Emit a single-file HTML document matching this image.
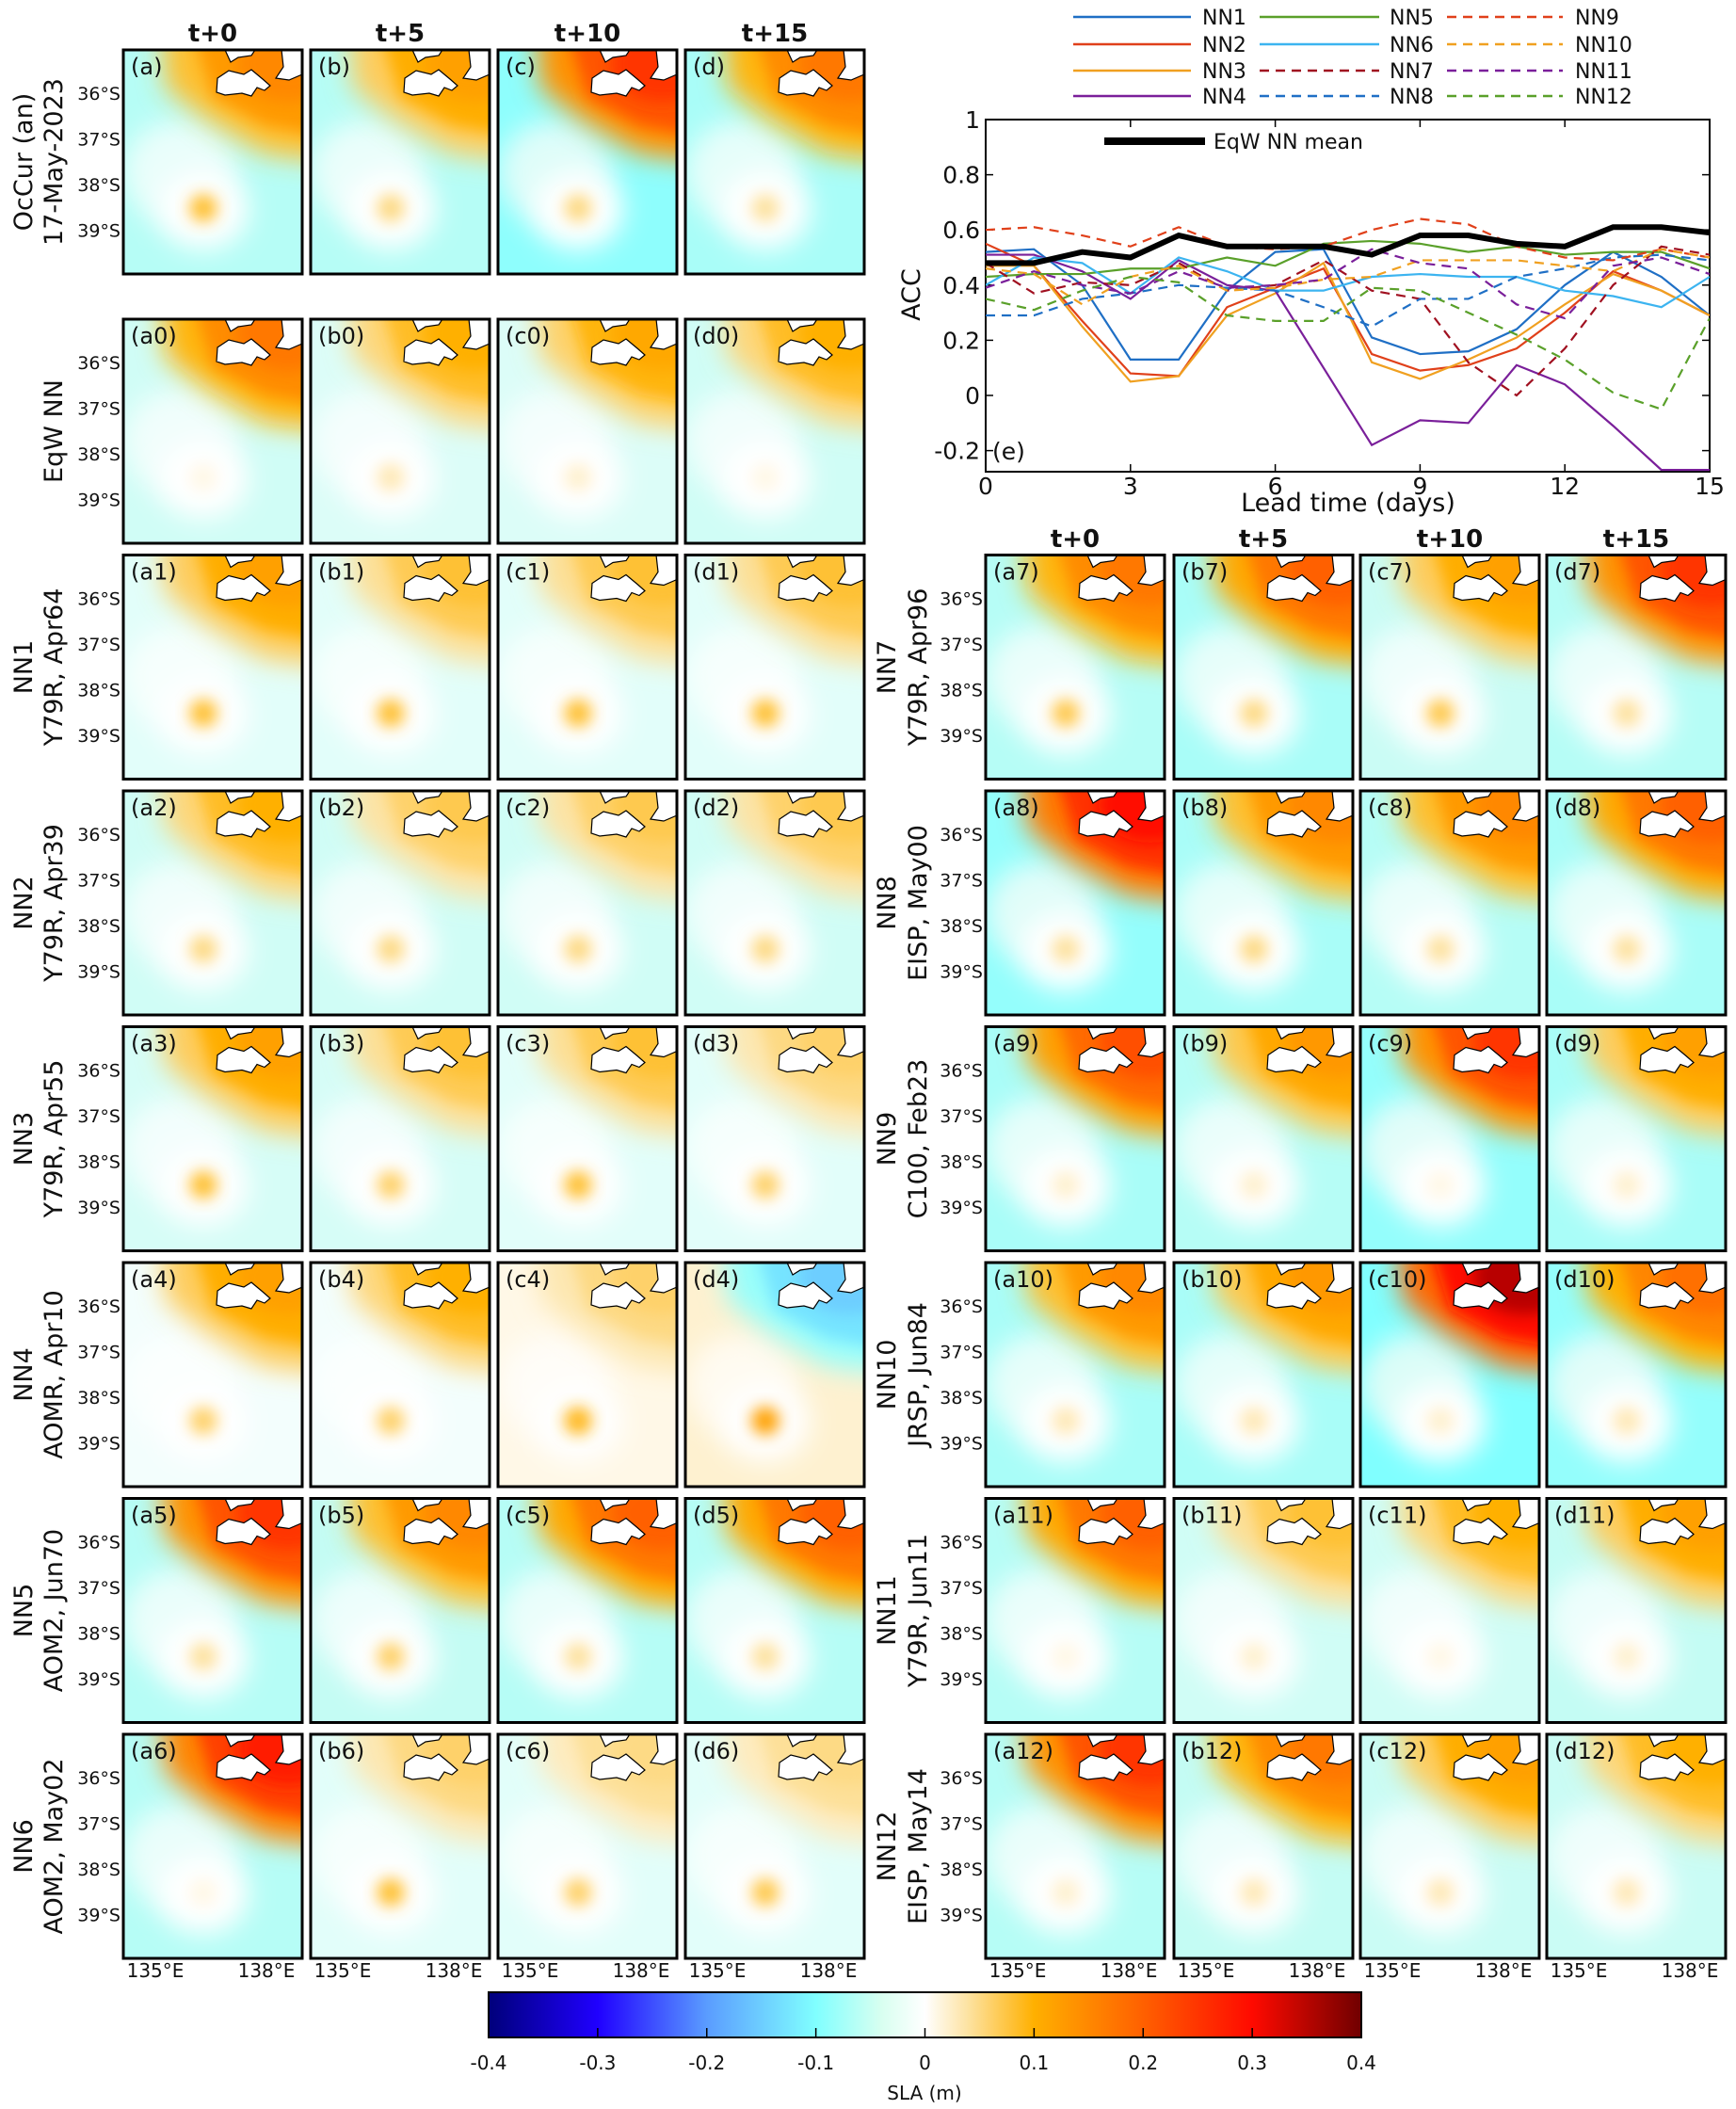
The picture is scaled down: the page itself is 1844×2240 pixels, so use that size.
<!DOCTYPE html>
<html><head><meta charset="utf-8">
<style>
html,body{margin:0;padding:0;background:#fff;}
#root{position:relative;width:1844px;height:2240px;overflow:hidden;font-family:"Liberation Sans","DejaVu Sans",sans-serif;}
svg text{font-family:"DejaVu Sans","Liberation Sans",sans-serif;}
</style></head>
<body>
<div id="root">
<svg id="maps" width="1844" height="2240" style="position:absolute;left:0;top:0">
<defs>
<filter id="bl" x="-50%" y="-50%" width="200%" height="200%"><feGaussianBlur stdDeviation="14"/></filter>
<filter id="bs" x="-50%" y="-50%" width="200%" height="200%"><feGaussianBlur stdDeviation="8"/></filter>
<linearGradient id="cbg" x1="0" x2="1" y1="0" y2="0">
<stop offset="0" stop-color="#00007a"/><stop offset="0.125" stop-color="#2000ff"/>
<stop offset="0.25" stop-color="#5a9cff"/><stop offset="0.375" stop-color="#80ffff"/>
<stop offset="0.45" stop-color="#d8fff0"/><stop offset="0.5" stop-color="#ffffff"/>
<stop offset="0.55" stop-color="#fde2a0"/><stop offset="0.625" stop-color="#ffb000"/>
<stop offset="0.75" stop-color="#ff6000"/><stop offset="0.875" stop-color="#ff0a00"/>
<stop offset="1" stop-color="#700000"/></linearGradient>
</defs>
</svg>
<svg id="chart" width="1844" height="560" style="position:absolute;left:0;top:0"></svg>
</div>
<script>
// ===== ACC chart data =====
const days = [0,1,2,3,4,5,6,7,8,9,10,11,12,13,14,15];
const yTicks = [-0.2,0,0.2,0.4,0.6,0.8,1];
const xTicks = [0,3,6,9,12,15];
const seriesNames = ["NN1","NN2","NN3","NN4","NN5","NN6","NN7","NN8","NN9","NN10","NN11","NN12"];
const seriesColors = ["#1f6fc5","#e0401a","#f0a020","#7a1f9a","#5aa02a","#3cb4f0","#a01020","#1f6fc5","#e0401a","#f0a020","#7a1f9a","#5aa02a"];
const seriesDashed = [0,0,0,0,0,0,1,1,1,1,1,1];
const nn1 = [0.52,0.53,0.40,0.13,0.13,0.38,0.52,0.53,0.21,0.15,0.16,0.24,0.40,0.52,0.43,0.29];
const nn2 = [0.55,0.47,0.27,0.08,0.07,0.32,0.39,0.46,0.15,0.09,0.11,0.17,0.30,0.45,0.38,0.29];
const nn3 = [0.47,0.47,0.25,0.05,0.07,0.29,0.37,0.48,0.12,0.06,0.13,0.21,0.33,0.44,0.38,0.29];
const nn4 = [0.51,0.51,0.45,0.35,0.49,0.40,0.38,0.10,-0.18,-0.09,-0.10,0.11,0.04,-0.11,-0.27,-0.27];
const nn5 = [0.43,0.44,0.44,0.46,0.46,0.50,0.47,0.55,0.56,0.55,0.52,0.54,0.51,0.52,0.52,0.46];
const nn6 = [0.40,0.50,0.48,0.37,0.50,0.45,0.38,0.38,0.43,0.44,0.43,0.43,0.38,0.36,0.32,0.43];
const nn7 = [0.48,0.37,0.41,0.40,0.48,0.38,0.40,0.49,0.38,0.35,0.12,0.00,0.17,0.40,0.54,0.51];
const nn8 = [0.29,0.29,0.35,0.37,0.40,0.39,0.38,0.32,0.25,0.35,0.35,0.43,0.46,0.50,0.51,0.49];
const nn9 = [0.60,0.61,0.58,0.54,0.61,0.54,0.53,0.54,0.60,0.64,0.62,0.54,0.50,0.49,0.53,0.50];
const nn10 = [0.46,0.44,0.33,0.43,0.47,0.38,0.39,0.42,0.43,0.49,0.49,0.49,0.47,0.45,0.53,0.50];
const nn11 = [0.39,0.45,0.40,0.37,0.45,0.39,0.40,0.42,0.53,0.48,0.46,0.33,0.28,0.47,0.50,0.44];
const nn12 = [0.35,0.31,0.38,0.43,0.41,0.29,0.27,0.27,0.39,0.38,0.30,0.22,0.13,0.01,-0.05,0.28];
const eqwMean = [0.48,0.48,0.52,0.50,0.58,0.54,0.54,0.54,0.51,0.58,0.58,0.55,0.54,0.61,0.61,0.59];
const seriesValues = [nn1,nn2,nn3,nn4,nn5,nn6,nn7,nn8,nn9,nn10,nn11,nn12];

// ===== map panel data (SLA in m) =====
const colHeaders = ["t+0","t+5","t+10","t+15"];
const leftRowLabels = [["OcCur (an)","17-May-2023"],["EqW NN",""],["NN1","Y79R, Apr64"],["NN2","Y79R, Apr39"],["NN3","Y79R, Apr55"],["NN4","AOMR, Apr10"],["NN5","AOM2, Jun70"],["NN6","AOM2, May02"]];
const rightRowLabels = [["NN7","Y79R, Apr96"],["NN8","EISP, May00"],["NN9","C100, Feb23"],["NN10","JRSP, Jun84"],["NN11","Y79R, Jun11"],["NN12","EISP, May14"]];
const leftNE = [[0.15,0.12,0.25,0.17],[0.17,0.10,0.11,0.10],[0.12,0.08,0.08,0.08],[0.10,0.07,0.07,0.07],[0.12,0.08,0.08,0.06],[0.12,0.10,0.06,-0.15],[0.25,0.15,0.20,0.20],[0.28,0.06,0.05,0.05]];
const leftEddy = [[0.08,0.05,0.05,0.04],[0.01,0.03,0.02,0.01],[0.08,0.08,0.08,0.08],[0.05,0.05,0.05,0.05],[0.08,0.06,0.08,0.06],[0.06,0.06,0.09,0.12],[0.04,0.06,0.04,0.04],[0.01,0.08,0.06,0.07]];
const leftBg = [[-0.06,-0.06,-0.09,-0.07],[-0.04,-0.03,-0.03,-0.04],[-0.025,-0.025,-0.025,-0.025],[-0.04,-0.04,-0.04,-0.04],[-0.035,-0.035,-0.025,-0.025],[-0.01,-0.01,0.01,0.02],[-0.06,-0.05,-0.06,-0.06],[-0.06,-0.025,-0.025,-0.025]];
const rightNE = [[0.17,0.20,0.12,0.25],[0.30,0.15,0.15,0.20],[0.22,0.13,0.25,0.12],[0.15,0.13,0.35,0.18],[0.20,0.08,0.10,0.12],[0.25,0.17,0.12,0.10]];
const rightEddy = [[0.07,0.05,0.07,0.04],[0.04,0.05,0.04,0.04],[0.02,0.02,0.01,0.02],[0.03,0.03,0.02,0.03],[0.01,0.02,0.01,0.02],[0.02,0.03,0.03,0.03]];
const rightBg = [[-0.06,-0.07,-0.045,-0.06],[-0.085,-0.07,-0.06,-0.07],[-0.07,-0.06,-0.085,-0.07],[-0.07,-0.07,-0.1,-0.085],[-0.06,-0.04,-0.04,-0.05],[-0.06,-0.05,-0.045,-0.045]];
const cbTicks = [-0.4,-0.3,-0.2,-0.1,0,0.1,0.2,0.3,0.4];

const NS="http://www.w3.org/2000/svg";
function mk(parent,tag,attrs,txt){const e=document.createElementNS(NS,tag);for(const k in attrs)e.setAttribute(k,attrs[k]);if(txt!==undefined)e.textContent=txt;parent.appendChild(e);return e;}

const cmS=[-0.4,-0.3,-0.2,-0.1,-0.05,0,0.04,0.1,0.2,0.3,0.4];
const cmC=[[0,0,122],[32,0,255],[90,156,255],[128,255,255],[196,252,244],[255,255,255],[253,226,160],[255,176,0],[255,96,0],[255,10,0],[112,0,0]];
function cmap(v){v=Math.max(-0.4,Math.min(0.4,v));for(let i=0;i<cmS.length-1;i++){if(v<=cmS[i+1]){const t=(v-cmS[i])/(cmS[i+1]-cmS[i]);const c=cmC[i].map((a,j)=>Math.round(a+(cmC[i+1][j]-a)*t));return `rgb(${c})`;}}return "rgb(112,0,0)";}

const maps=document.getElementById('maps');
const W=190,H=238;
const leftX=[131,330,529,728], rightX=[1047,1247,1445,1643];
function rowTop(r){return r===0?53:339+(r-1)*250.5;}
let clipId=0;
function panel(x,y,ne,eddy,bg,label,showLat){
  const g=mk(maps,'g',{transform:`translate(${x},${y})`});
  
  
  const cid='c'+(clipId++);
  const cp=mk(g,'clipPath',{id:cid});mk(cp,'rect',{x:0,y:0,width:W,height:H});
  const f=mk(g,'g',{'clip-path':`url(#${cid})`});
  mk(f,'rect',{x:0,y:0,width:W,height:H,fill:cmap(bg)});
  mk(f,'ellipse',{cx:60,cy:130,rx:60,ry:55,fill:cmap(bg*0.3),filter:'url(#bl)'});
  mk(f,'ellipse',{cx:85,cy:170,rx:48,ry:42,fill:cmap(0),filter:'url(#bl)'});
  mk(f,'polygon',{points:`40,-30 230,-30 230,120 150,110 90,75 45,40`,fill:cmap(ne*0.55),filter:'url(#bl)'});
  mk(f,'polygon',{points:`70,-30 230,-30 230,95 150,80 95,50`,fill:cmap(ne*0.85),filter:'url(#bs)'});
  mk(f,'ellipse',{cx:175,cy:15,rx:55,ry:40,fill:cmap(ne),filter:'url(#bs)'});
  mk(f,'circle',{cx:85,cy:168,r:15,fill:cmap(eddy),filter:'url(#bs)'});
  mk(f,'path',{d:'M100,30 L112,22 L128,26 L136,21 L148,31 L156,38 L150,43 L142,40 L136,49 L126,46 L108,48 L99,45 Z',fill:'#fff',stroke:'#000','stroke-width':1.2});
  mk(f,'path',{d:'M108,0 L140,0 L136,6 L122,8 L114,13 Z',fill:'#fff',stroke:'#000','stroke-width':1.2});
  mk(f,'path',{d:'M168,0 L190,0 L190,26 L176,32 L162,30 L170,18 Z',fill:'#fff',stroke:'#000','stroke-width':1.2});
  mk(g,'rect',{x:0,y:0,width:W,height:H,fill:'none',stroke:'#000','stroke-width':3});
  const t=mk(g,'text',{x:8,y:26,'font-size':24,fill:'#111'},label);
  
  
  if(showLat){
    ['36°S','37°S','38°S','39°S'].forEach((s,i)=>{
      const lt=mk(maps,'text',{x:x-3,y:y+53+i*48.5,'font-size':19,'text-anchor':'end',fill:'#111'},s);
      
      
    });
  }
}
function rowLabel(cx1,cx2,yc,lines){
  lines.forEach((s,i)=>{
    if(!s)return;
    const cx=lines[1]?(i===0?cx1:cx2):cx2;
    const t=mk(maps,'text',{x:0,y:0,'font-size':27,'text-anchor':'middle',transform:`translate(${cx},${yc}) rotate(-90)`,fill:'#111'},s);
    
    
  });
}
const letters=['a','b','c','d'];
for(let r=0;r<8;r++){
  const y=rowTop(r);
  const suf=r===0?'':String(r-1);
  for(let c=0;c<4;c++) panel(leftX[c],y,leftNE[r][c],leftEddy[r][c],leftBg[r][c],`(${letters[c]}${suf})`,c===0);
  rowLabel(34,66,y+H/2,leftRowLabels[r]);
}
for(let r=0;r<6;r++){
  const y=rowTop(r+2);
  for(let c=0;c<4;c++) panel(rightX[c],y,rightNE[r][c],rightEddy[r][c],rightBg[r][c],`(${letters[c]}${r+7})`,c===0);
  rowLabel(951,984,y+H/2,rightRowLabels[r]);
}
colHeaders.forEach((h,c)=>{
  let t=mk(maps,'text',{x:leftX[c]+W/2,y:44,'font-size':26,'font-weight':'bold','text-anchor':'middle',fill:'#111'},h);
  
  
  t=mk(maps,'text',{x:rightX[c]+W/2,y:581,'font-size':26,'font-weight':'bold','text-anchor':'middle',fill:'#111'},h);
  
  
});
[...leftX,...rightX].forEach(x=>{
  let t=mk(maps,'text',{x:x+34,y:2100,'font-size':20,'text-anchor':'middle',fill:'#111'},'135°E');
  
  
  t=mk(maps,'text',{x:x+152,y:2100,'font-size':20,'text-anchor':'middle',fill:'#111'},'138°E');
  
  
});
const cbX0=519,cbX1=1446,cbY=2116,cbH=48;
const cb=mk(maps,'rect',{x:cbX0,y:cbY,width:cbX1-cbX0,height:cbH,fill:'url(#cbg)',stroke:'#000','stroke-width':2});


function cbx(v){return cbX0+(v+0.4)/0.8*(cbX1-cbX0);}
cbTicks.forEach(v=>{
  if(v>-0.4&&v<0.4) mk(maps,'line',{x1:cbx(v),x2:cbx(v),y1:cbY+cbH-10,y2:cbY+cbH,stroke:'#000','stroke-width':1.5});
  const t=mk(maps,'text',{x:cbx(v),y:2198,'font-size':20,'text-anchor':'middle',fill:'#111'},String(v));
  
  
});
const sl=mk(maps,'text',{x:982,y:2230,'font-size':20,'text-anchor':'middle',fill:'#111'},'SLA (m)');



// ===== chart =====
const ch=document.getElementById('chart');
const PX0=1047,PX1=1816,PY1=127,PY0=420,PYB=501;
function xs(d){return PX0+d/15*(PX1-PX0);}
function ys(v){return PY0-(PY0-PY1)*v;}
mk(ch,'rect',{x:PX0,y:PY1,width:PX1-PX0,height:PYB-PY1,fill:'#fff',stroke:'#000','stroke-width':2});
yTicks.forEach(v=>{
  mk(ch,'line',{x1:PX0,x2:PX0+8,y1:ys(v),y2:ys(v),stroke:'#000','stroke-width':1.5});
  mk(ch,'line',{x1:PX1-8,x2:PX1,y1:ys(v),y2:ys(v),stroke:'#000','stroke-width':1.5});
  const t=mk(ch,'text',{x:PX0-6,y:ys(v)+9,'font-size':25,'text-anchor':'end',fill:'#111'},String(v));
  
  
});
xTicks.forEach(d=>{
  mk(ch,'line',{x1:xs(d),x2:xs(d),y1:PYB,y2:PYB-8,stroke:'#000','stroke-width':1.5});
  mk(ch,'line',{x1:xs(d),x2:xs(d),y1:PY1,y2:PY1+8,stroke:'#000','stroke-width':1.5});
  const t=mk(ch,'text',{x:xs(d),y:525,'font-size':25,'text-anchor':'middle',fill:'#111'},String(d));
  
  
});
let t=mk(ch,'text',{x:0,y:0,'font-size':27,'text-anchor':'middle',transform:`translate(977,313) rotate(-90)`,fill:'#111'},'ACC');


t=mk(ch,'text',{x:1432,y:543,'font-size':27,'text-anchor':'middle',fill:'#111'},'Lead time (days)');


t=mk(ch,'text',{x:1054,y:488,'font-size':25,fill:'#111'},'(e)');


const cg=mk(ch,'g',{});
const cpc=mk(cg,'clipPath',{id:'chclip'});mk(cpc,'rect',{x:PX0,y:PY1,width:PX1-PX0,height:PYB-PY1});
const lg=mk(cg,'g',{'clip-path':'url(#chclip)'});
seriesValues.forEach((vals,i)=>{
  const pts=vals.map((v,k)=>`${xs(days[k])},${ys(v)}`).join(' ');
  const pl=mk(lg,'polyline',{points:pts,fill:'none',stroke:seriesColors[i],'stroke-width':2.2,'stroke-dasharray':seriesDashed[i]?'10,7':'none'});
  
  
});
const mp=mk(lg,'polyline',{points:eqwMean.map((v,k)=>`${xs(days[k])},${ys(v)}`).join(' '),fill:'none',stroke:'#000','stroke-width':6});


const legX=[[1140,1265,1277],[1338,1465,1476],[1537,1660,1673]], legY=[18,47,75,102];
seriesNames.forEach((n,i)=>{
  const c=Math.floor(i/4), r=i%4;
  const ll=mk(ch,'line',{x1:legX[c][0],x2:legX[c][1],y1:legY[r],y2:legY[r],stroke:seriesColors[i],'stroke-width':2.5,'stroke-dasharray':seriesDashed[i]?'10,7':'none'});
  
  
  const lt=mk(ch,'text',{x:legX[c][2],y:legY[r]+8,'font-size':22,fill:'#111'},n);
  
  
});
const ml=mk(ch,'line',{x1:1173,x2:1280,y1:150,y2:150,stroke:'#000','stroke-width':8});


t=mk(ch,'text',{x:1289,y:158,'font-size':22,fill:'#111'},'EqW NN mean');


</script>
</body></html>
